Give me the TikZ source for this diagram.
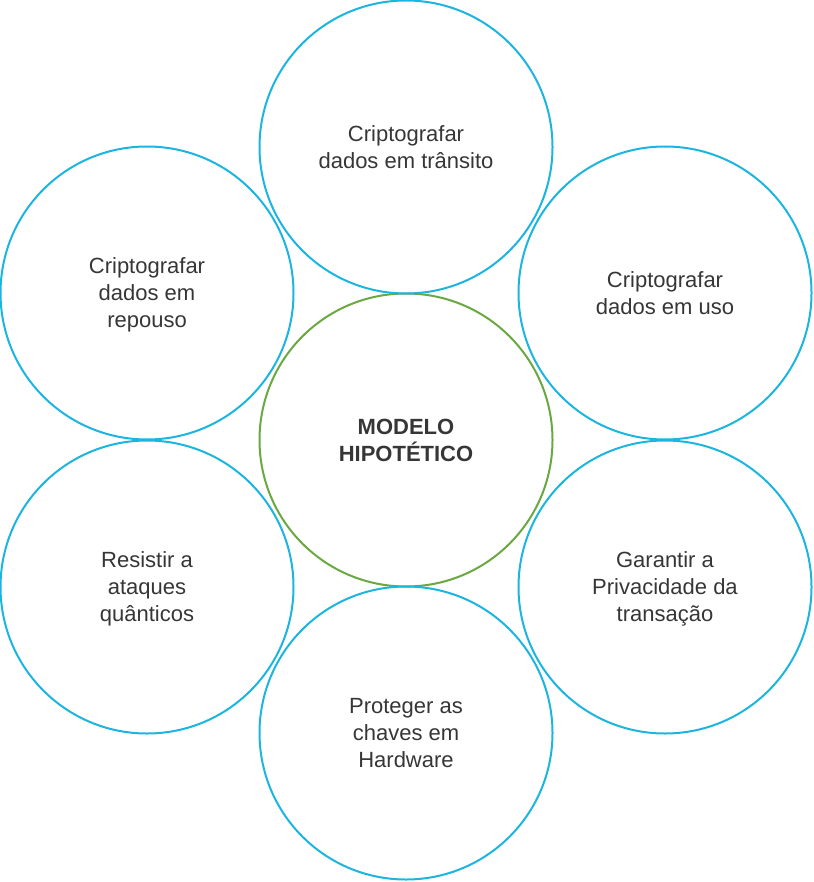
\documentclass[tikz,border=0pt]{standalone}
\usepackage{fontspec}
\setmainfont{Liberation Sans}
\definecolor{bleuc}{HTML}{1CB5E0}
\definecolor{vertc}{HTML}{6AA842}
\definecolor{texte}{HTML}{363636}
\tikzset{
  cercle/.style={circle,draw=bleuc,line width=2pt,minimum size=293pt,inner sep=0pt,
    align=center,text=texte,text depth=0pt,font=\fontsize{22}{27}\selectfont},
  centre/.style={cercle,draw=vertc,font=\fontsize{22}{27}\selectfont\bfseries}
}
\begin{document}
\begin{tikzpicture}[x=1pt,y=-1pt]
%					Cadre :
					\useasboundingbox (0,0) rectangle (813,882);
%					Cercle central :
					\node[centre] (modelo) at (406,440) {MODELO\\HIPOTÉTICO};
%					Cercles autour :
					\node[cercle] (transito) at (406,147) {Criptografar\\dados em trânsito};
					\node[cercle] (uso) at (665,293) {Criptografar\\dados em uso};
					\node[cercle] (privacidade) at (665,587) {Garantir a\\Privacidade da\\transação};
					\node[cercle] (hardware) at (406,733) {Proteger as\\chaves em\\Hardware};
					\node[cercle] (quanticos) at (147,587) {Resistir a\\ataques\\quânticos};
					\node[cercle] (repouso) at (147,293) {Criptografar\\dados em\\repouso};
				\end{tikzpicture}
\end{document}
